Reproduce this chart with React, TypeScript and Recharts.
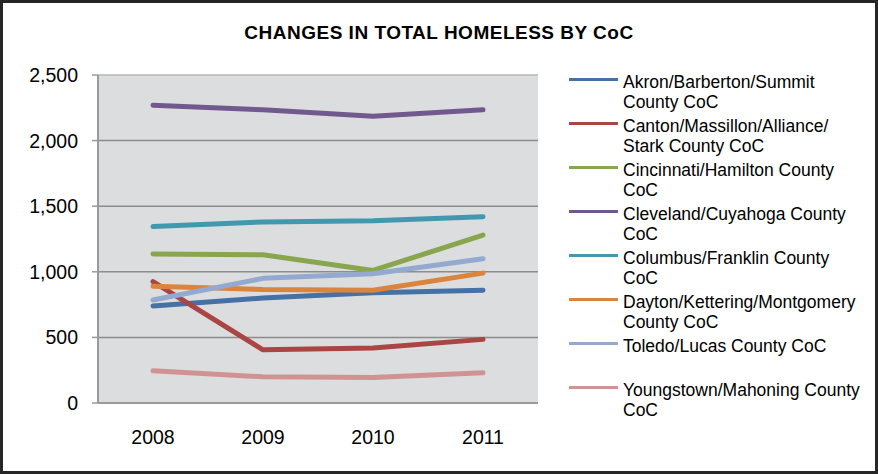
import {
  LineChart,
  Line,
  XAxis,
  YAxis,
  CartesianGrid,
  Legend,
  ReferenceLine,
} from 'recharts';

// values
const YEARS = ['2008', '2009', '2010', '2011'];
const AKRON = [740, 800, 840, 860];
const CANTON = [925, 405, 420, 485];
const CINCINNATI = [1135, 1130, 1010, 1280];
const CLEVELAND = [2270, 2235, 2185, 2235];
const COLUMBUS = [1345, 1380, 1390, 1420];
const DAYTON = [890, 865, 860, 990];
const TOLEDO = [785, 950, 985, 1100];
const YOUNGSTOWN = [245, 200, 195, 230];

const Y_TICKS = [0, 500, 1000, 1500, 2000, 2500];
const GRID_VALUES = [500, 1000, 1500, 2000];
const BOUNDARY_TICKS = [0, 1, 2, 3, 4];

const SERIES = [
  { key: 'akron', values: AKRON, color: '#4571a6', label: ['Akron/Barberton/Summit', 'County CoC'] },
  { key: 'canton', values: CANTON, color: '#a94542', label: ['Canton/Massillon/Alliance/', 'Stark County CoC'] },
  { key: 'cincinnati', values: CINCINNATI, color: '#89a54e', label: ['Cincinnati/Hamilton County', 'CoC'] },
  { key: 'cleveland', values: CLEVELAND, color: '#71588f', label: ['Cleveland/Cuyahoga County', 'CoC'] },
  { key: 'columbus', values: COLUMBUS, color: '#4198af', label: ['Columbus/Franklin County', 'CoC'] },
  { key: 'dayton', values: DAYTON, color: '#db843d', label: ['Dayton/Kettering/Montgomery', 'County CoC'] },
  { key: 'toledo', values: TOLEDO, color: '#93a9cf', label: ['Toledo/Lucas County CoC'] },
  { key: 'youngstown', values: YOUNGSTOWN, color: '#d19392', label: ['Youngstown/Mahoning County', 'CoC'] },
];

const DATA = YEARS.map((year, i) => {
  const row: Record<string, string | number> = { year };
  SERIES.forEach((s) => {
    row[s.key] = s.values[i];
  });
  return row;
});

const FONT = '"Liberation Sans", Arial, sans-serif';

const LegendBox = () => (
  <div style={{ paddingLeft: 31, fontFamily: FONT, color: '#000' }}>
    {SERIES.map((s) => (
      <div key={s.key} style={{ display: 'flex', height: 44 }}>
        <div style={{ width: 49, height: 3, marginTop: 6, marginRight: 5, background: s.color, flexShrink: 0 }} />
        <div style={{ fontSize: 17.5, lineHeight: '20px', whiteSpace: 'nowrap' }}>
          {s.label.map((line) => (
            <div key={line}>{line}</div>
          ))}
        </div>
      </div>
    ))}
  </div>
);

export default function App() {
  return (
    <div style={{ position: 'absolute', left: 0, top: 0, width: 878, height: 474, background: '#fff' }}>
      <div
        style={{
          position: 'absolute',
          left: 0,
          right: 0,
          top: 23,
          textAlign: 'center',
          fontFamily: FONT,
          fontWeight: 'bold',
          fontSize: 19,
          letterSpacing: 0.5,
          lineHeight: 1,
          color: '#000',
        }}
      >
        CHANGES IN TOTAL HOMELESS BY CoC
      </div>
      <LineChart width={878} height={474} data={DATA} margin={{ top: 75, right: 10, left: 8, bottom: 11 }}>
        <CartesianGrid
          vertical={false}
          fill="#dcdddf"
          stroke="#8c8c8c"
          strokeWidth={1.5}
          horizontalValues={GRID_VALUES}
        />
        <XAxis
          xAxisId="frame"
          type="number"
          domain={[0, 4]}
          ticks={BOUNDARY_TICKS}
          allowDataOverflow
          tick={false}
          tickSize={6}
          tickLine={{ stroke: '#9a9a9a', strokeWidth: 1.5 }}
          axisLine={false}
          height={0}
        />
        <XAxis
          dataKey="year"
          padding={{ left: 55, right: 55 }}
          tickLine={false}
          tickSize={0}
          tickMargin={27}
          axisLine={{ stroke: '#9a9a9a', strokeWidth: 2 }}
          tick={{ fill: '#000', fontSize: 19.5, fontFamily: FONT }}
          height={60}
        />
        <YAxis
          width={90}
          domain={[0, 2500]}
          ticks={Y_TICKS}
          interval={0}
          tickFormatter={(v: number) => v.toLocaleString('en-US')}
          tickSize={6}
          tickMargin={14}
          tickLine={{ stroke: '#9a9a9a', strokeWidth: 1.5 }}
          axisLine={{ stroke: '#9a9a9a', strokeWidth: 2 }}
          tick={{ fill: '#000', fontSize: 19.5, fontFamily: FONT }}
        />
        <ReferenceLine y={2500} stroke="#b4b4b4" strokeWidth={1.5} />
        <ReferenceLine xAxisId="frame" x={4} stroke="#b4b4b4" strokeWidth={1.5} />
        {SERIES.map((s) => (
          <Line
            key={s.key}
            type="linear"
            dataKey={s.key}
            stroke={s.color}
            strokeWidth={5}
            strokeLinecap="round"
            strokeLinejoin="round"
            dot={false}
            activeDot={false}
            isAnimationActive={false}
          />
        ))}
        <Legend
          layout="vertical"
          align="right"
          verticalAlign="top"
          width={330}
          wrapperStyle={{ top: 72 }}
          content={<LegendBox />}
        />
      </LineChart>
      <div
        style={{
          position: 'absolute',
          inset: 0,
          boxShadow: 'inset 0 0 0 3px #262626',
          pointerEvents: 'none',
        }}
      />
    </div>
  );
}
